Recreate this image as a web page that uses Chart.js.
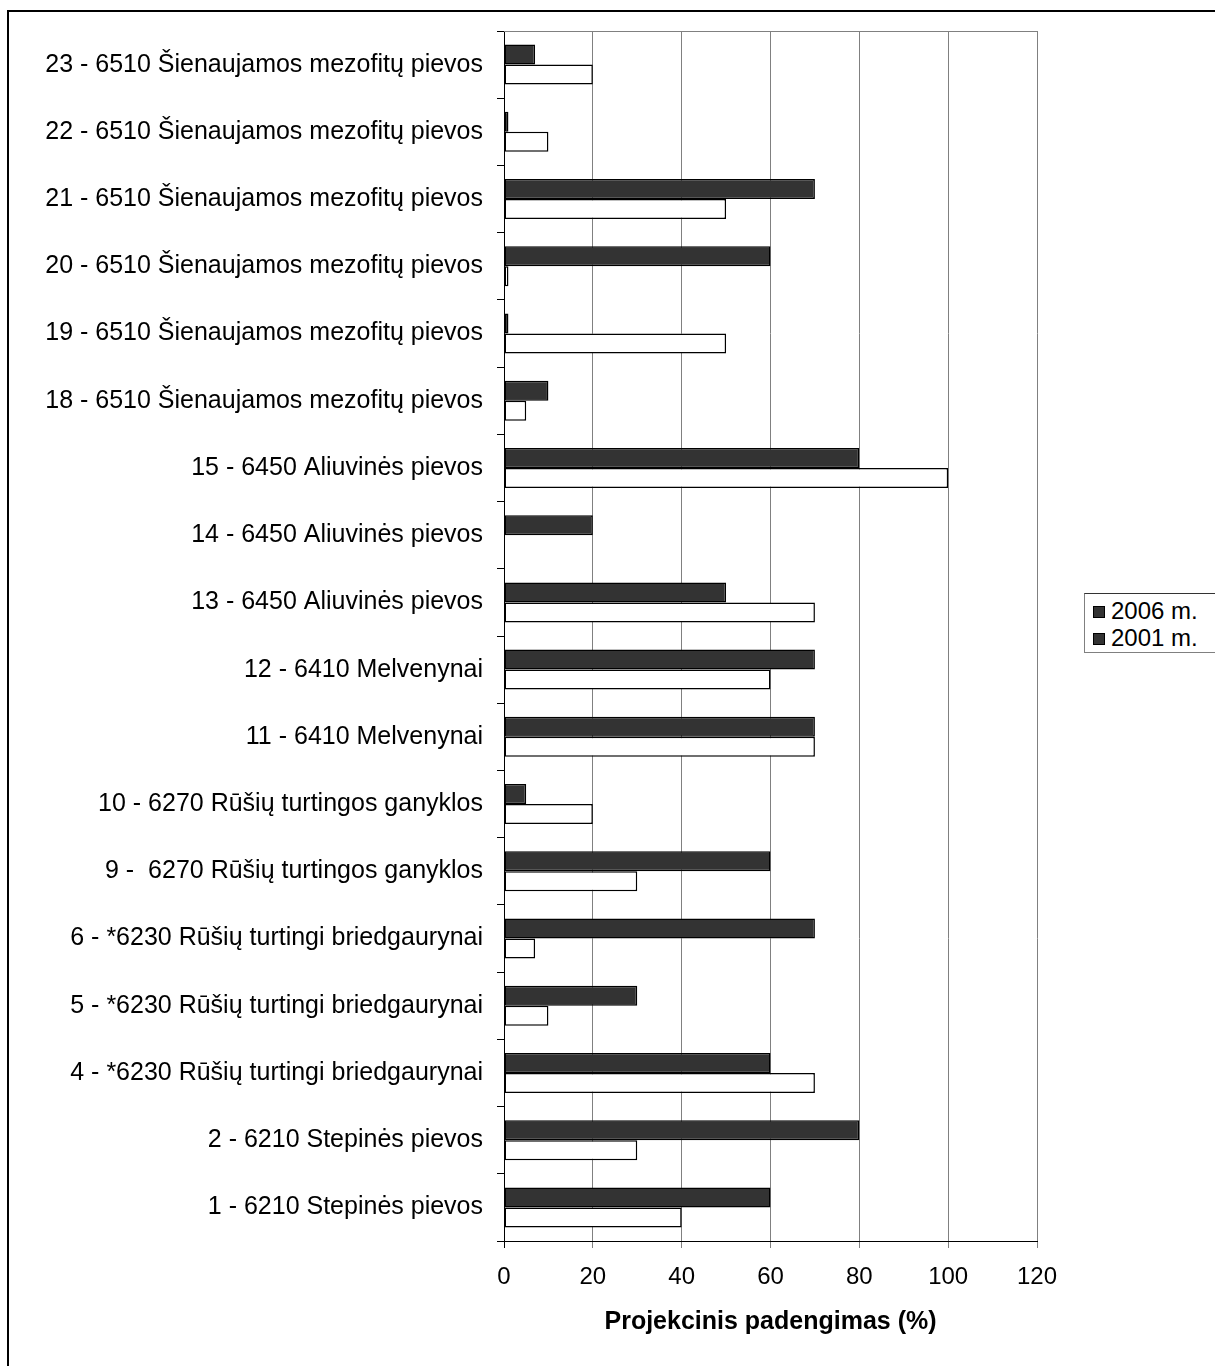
<!DOCTYPE html>
<html lang="lt">
<head>
<meta charset="utf-8">
<title>Projekcinis padengimas</title>
<script src="https://cdn.jsdelivr.net/npm/chart.js@4/dist/chart.umd.min.js"></script>
<style>
  html, body { margin: 0; padding: 0; background: #fff; overflow: hidden; }
  body { width: 1215px; height: 1366px; position: relative; }
  #frame {
    position: absolute; left: 7px; top: 10px;
    width: 1240px; height: 1400px;
    border: 2px solid #000; box-sizing: border-box;
  }
  #wrap { position: absolute; left: 0; top: 0; width: 1215px; height: 1366px; }
  #legend {
    position: absolute; left: 1084px; top: 593px;
    width: 160px; height: 60px;
    border: 1px solid #808080; border-top-color: #333; background: #fff;
    font-family: "Liberation Sans", Arial, sans-serif; font-size: 24px; color: #000;
    box-sizing: border-box; padding-top: 3px;
  }
  .item { height: 27px; line-height: 27px; padding-left: 8px; white-space: nowrap; }
  .sw {
    display: inline-block; width: 10px; height: 10px;
    background: #333; border: 1px solid #000;
    margin-right: 6px; vertical-align: 1px;
  }
</style>
</head>
<body>
<div id="frame"></div>
<div id="wrap"><canvas id="c"></canvas></div>
<div id="legend"></div>
<script>
// Sites (top to bottom) and projected cover per survey year, %
const categories = [
  '23 - 6510 Šienaujamos mezofitų pievos',
  '22 - 6510 Šienaujamos mezofitų pievos',
  '21 - 6510 Šienaujamos mezofitų pievos',
  '20 - 6510 Šienaujamos mezofitų pievos',
  '19 - 6510 Šienaujamos mezofitų pievos',
  '18 - 6510 Šienaujamos mezofitų pievos',
  '15 - 6450 Aliuvinės pievos',
  '14 - 6450 Aliuvinės pievos',
  '13 - 6450 Aliuvinės pievos',
  '12 - 6410 Melvenynai',
  '11 - 6410 Melvenynai',
  '10 - 6270 Rūšių turtingos ganyklos',
  '9 -  6270 Rūšių turtingos ganyklos',
  '6 - *6230 Rūšių turtingi briedgaurynai',
  '5 - *6230 Rūšių turtingi briedgaurynai',
  '4 - *6230 Rūšių turtingi briedgaurynai',
  '2 - 6210 Stepinės pievos',
  '1 - 6210 Stepinės pievos'
];
const cover2006 = [7, 1, 70, 60, 1, 10, 80, 20, 50, 70, 70, 5, 60, 70, 30, 60, 80, 60];
const cover2001 = [20, 10, 50, 1, 50, 5, 100, 0, 70, 60, 70, 20, 30, 7, 10, 70, 30, 40];
const seriesNames = ['2006 m.', '2001 m.'];
const xTicks = [0, 20, 40, 60, 80, 100, 120];
const axisTitle = 'Projekcinis padengimas (%)';

const FONT = '"Liberation Sans", Arial, sans-serif';
const SIZE = 25;

// Legend (both entries use the dark swatch)
document.getElementById('legend').innerHTML = seriesNames
  .map(n => '<div class="item"><span class="sw"></span>' + n + '</div>').join('');

// Gray line along the top of the plot area
const plotTop = {
  id: 'plotTop',
  beforeDatasetsDraw(chart) {
    const { ctx, chartArea: a } = chart;
    ctx.save();
    ctx.strokeStyle = '#808080';
    ctx.lineWidth = 1;
    ctx.beginPath();
    ctx.moveTo(a.left, a.top + 0.5);
    ctx.lineTo(a.right, a.top + 0.5);
    ctx.stroke();
    ctx.restore();
  }
};

new Chart(document.getElementById('c'), {
  type: 'bar',
  data: {
    labels: categories,
    datasets: [
      { label: seriesNames[0], data: cover2006, backgroundColor: '#333333', borderColor: '#000', borderWidth: 1.5, borderSkipped: false },
      { label: seriesNames[1], data: cover2001, backgroundColor: '#ffffff', borderColor: '#000', borderWidth: 1.5, borderSkipped: false }
    ]
  },
  options: {
    indexAxis: 'y',
    responsive: true,
    maintainAspectRatio: false,
    animation: false,
    devicePixelRatio: 1,
    categoryPercentage: 0.595,
    barPercentage: 1,
    layout: { padding: { top: 31, right: 178, bottom: 0, left: 0 } },
    plugins: { legend: { display: false }, tooltip: { enabled: false } },
    scales: {
      x: {
        min: 0, max: 120,
        afterBuildTicks(s) { s.ticks = xTicks.map(v => ({ value: v })); },
        afterFit(s) { s.height = 125; },
        border: { color: '#000', width: 1 },
        grid: {
          color: c => (c.tick && c.tick.value === 0 ? '#000' : '#808080'),
          lineWidth: 1, tickLength: 7, drawTicks: true
        },
        ticks: { color: '#000', padding: 15, font: { family: FONT, size: 24 } },
        title: {
          display: true, text: axisTitle, color: '#000',
          font: { family: FONT, size: SIZE, weight: 'bold' },
          padding: { top: 0, bottom: 29 }
        }
      },
      y: {
        afterFit(s) { s.width = 504; },
        border: { color: '#000', width: 1 },
        grid: { offset: true, drawOnChartArea: false, drawTicks: true, tickLength: 7, color: '#000' },
        ticks: { color: '#000', padding: 14, autoSkip: false, font: { family: FONT, size: SIZE } }
      }
    }
  },
  plugins: [plotTop]
});
</script>
</body>
</html>
